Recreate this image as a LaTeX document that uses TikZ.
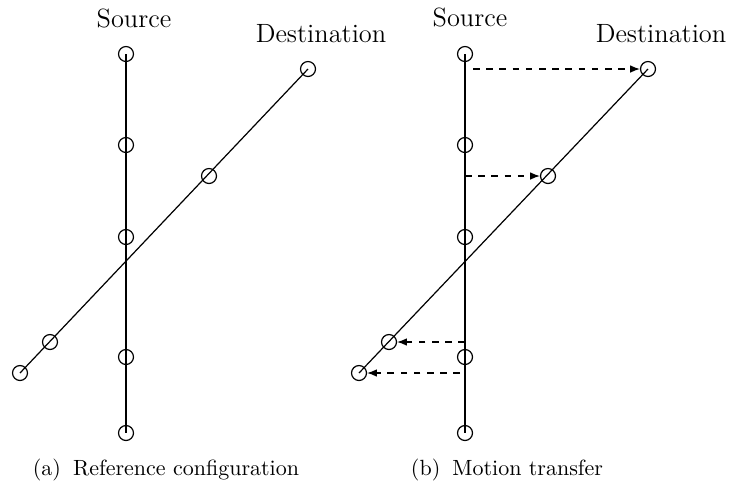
\documentclass[tikz,border=0pt]{standalone}
\usetikzlibrary{arrows.meta}
\begin{document}
\begin{tikzpicture}[x=0.4545pt,y=-0.4545pt,
  joint/.style={circle,draw,line width=0.55pt,inner sep=0pt,minimum size=6.8pt},
  link/.style={line width=0.55pt},
  transfer/.style={dashed,line width=0.55pt,-{Latex[length=4.4pt,width=3.4pt]}},
  title/.style={font=\large,anchor=base,inner sep=0pt},
  subcap/.style={font=\normalsize,anchor=base,inner sep=0pt}]
\useasboundingbox (0,0) rectangle (730,485);

% (a) reference configuration: source chain (vertical) and destination chain (diagonal)
\node[joint] (s1) at (126,54) {};
\node[joint] (s2) at (126,145) {};
\node[joint] (s3) at (126,237) {};
\node[joint] (s4) at (126,357) {};
\node[joint] (s5) at (126,433) {};
\node[joint] (d1) at (20,373) {};
\node[joint] (d2) at (50,342) {};
\node[joint] (d3) at (209,176) {};
\node[joint] (d4) at (308,69) {};
\draw[link] (s1.center) -- (s5.center);
\draw[link] (d1.center) -- (d4.center);
\node[title] (srcA) at (134,27) {Source};
\node[title] (dstA) at (321,42) {Destination};
\node[subcap] (capA) at (166,475) {(a)\hspace{5.5pt}Reference configuration};

% (b) motion transfer from source joints to destination joints
\node[joint] (t1) at (465,54) {};
\node[joint] (t2) at (465,145) {};
\node[joint] (t3) at (465,237) {};
\node[joint] (t4) at (465,357) {};
\node[joint] (t5) at (465,433) {};
\node[joint] (e1) at (359,373) {};
\node[joint] (e2) at (389,342) {};
\node[joint] (e3) at (548,176) {};
\node[joint] (e4) at (648,69) {};
\draw[link] (t1.center) -- (t5.center);
\draw[link] (e1.center) -- (e4.center);
\coordinate (m4) at (473,69);
\coordinate (m3) at (465,176);
\coordinate (m2) at (465,342);
\coordinate (m1) at (460,373);
\draw[transfer] (m4) -- (e4.west);
\draw[transfer] (m3) -- (e3.west);
\draw[transfer] (m2) -- (e2.east);
\draw[transfer] (m1) -- (e1.east);
\node[title] (srcB) at (470,26) {Source};
\node[title] (dstB) at (661,42) {Destination};
\node[subcap] (capB) at (507,475) {(b)\hspace{5.5pt}Motion transfer};
\end{tikzpicture}
\end{document}
